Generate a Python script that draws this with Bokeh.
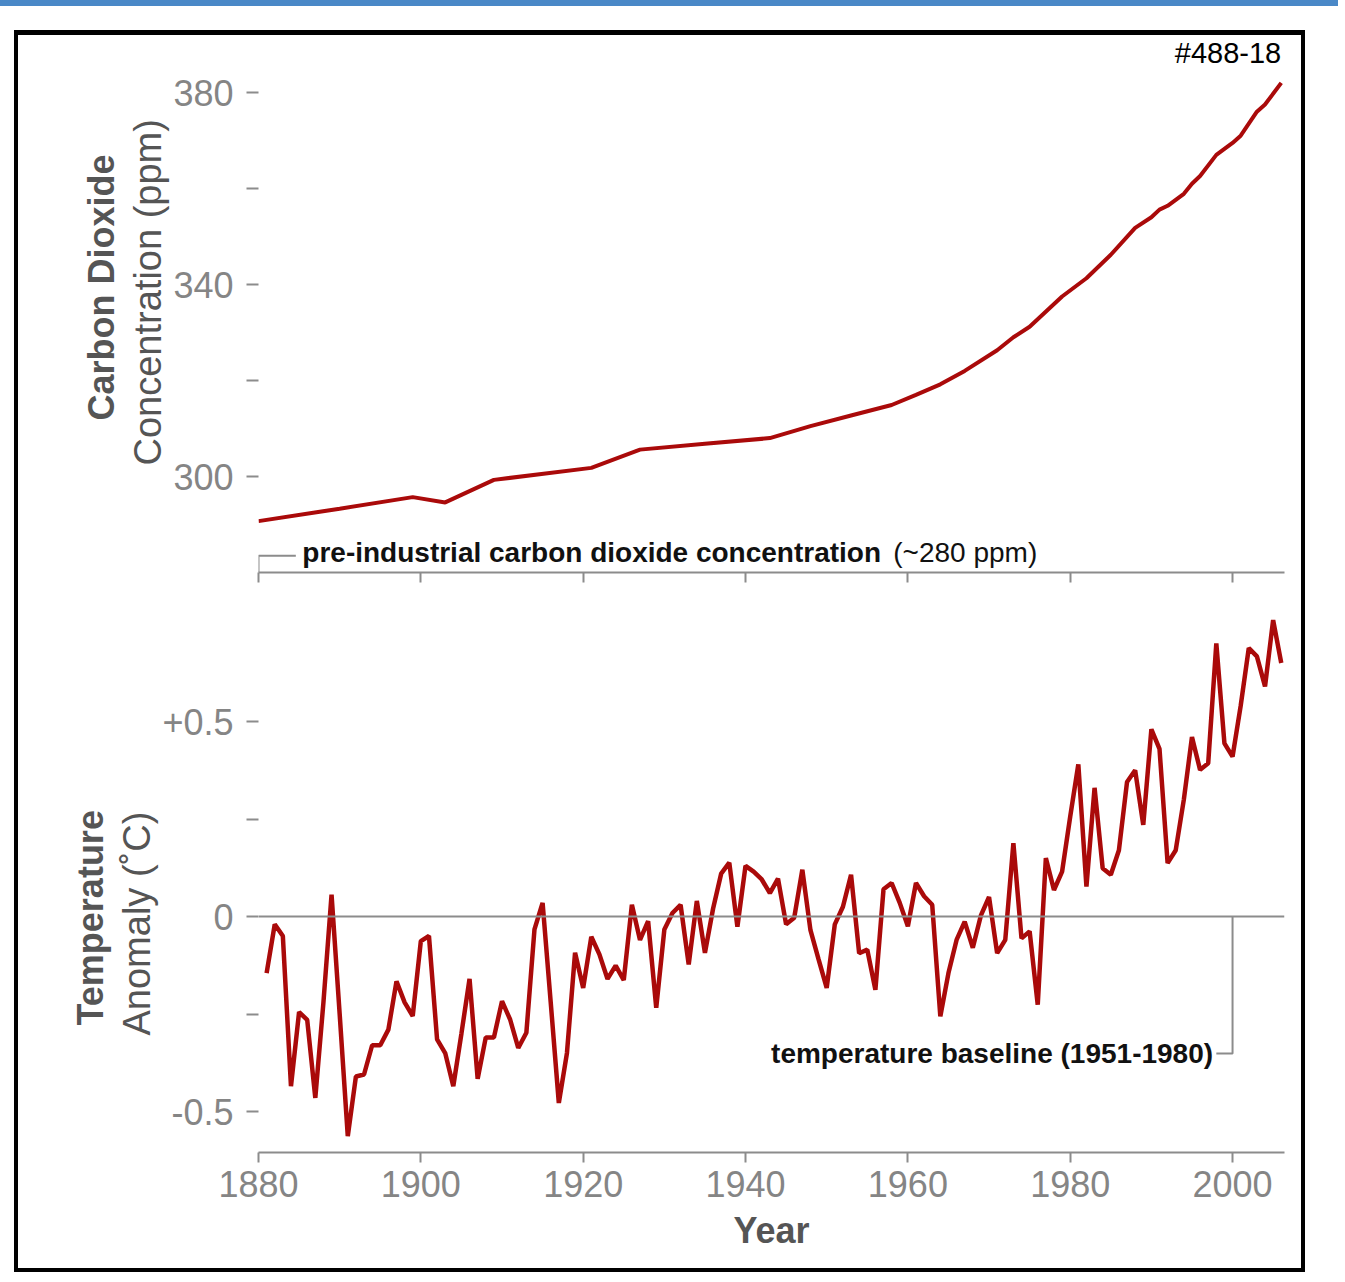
from bokeh.plotting import figure
from bokeh.models import Range1d, FixedTicker, Title, Span, Spacer
from bokeh.layouts import column, row
from bokeh.embed import file_html
from bokeh.resources import INLINE
from bokeh.core.properties import value

# ---------------- data ----------------
co2_years = [1880, 1890, 1899, 1903, 1909, 1921, 1927, 1935, 1943, 1948, 1953,
             1958, 1961, 1964, 1967, 1971, 1973, 1975, 1979, 1982, 1985, 1988,
             1990, 1991, 1992, 1994, 1995, 1996, 1998, 2000, 2001, 2003, 2004, 2006]
co2_ppm = [290.7, 293.3, 295.7, 294.6, 299.3, 301.8, 305.6, 306.8, 308.0, 310.5, 312.7,
           314.9, 317.0, 319.2, 322.0, 326.3, 329.0, 331.2, 337.5, 341.3, 346.2, 351.8,
           354.0, 355.6, 356.4, 358.9, 361.0, 362.6, 367.0, 369.5, 371.0, 376.0, 377.5, 382.0]

temp_years = list(range(1881, 2007))
temp_anom = [
    -0.145, -0.02, -0.05, -0.435, -0.245, -0.265, -0.465, -0.22, 0.056, -0.25,   # 1881-1890
    -0.563, -0.41, -0.405, -0.33, -0.33, -0.29, -0.166, -0.22, -0.255, -0.063,   # 1891-1900
    -0.05, -0.315, -0.35, -0.435, -0.30, -0.16, -0.416, -0.31, -0.31, -0.217,    # 1901-1910
    -0.264, -0.337, -0.298, -0.033, 0.035, -0.22, -0.478, -0.35, -0.093, -0.183, # 1911-1920
    -0.052, -0.097, -0.16, -0.126, -0.163, 0.03, -0.06, -0.012, -0.234, -0.033,  # 1921-1930
    0.009, 0.03, -0.123, 0.04, -0.093, 0.02, 0.11, 0.138, -0.026, 0.13,          # 1931-1940
    0.115, 0.095, 0.06, 0.097, -0.02, -0.003, 0.12, -0.035, -0.11, -0.183,       # 1941-1950
    -0.02, 0.025, 0.107, -0.094, -0.085, -0.188, 0.07, 0.086, 0.035, -0.025,     # 1951-1960
    0.086, 0.052, 0.03, -0.256, -0.145, -0.06, -0.013, -0.08, 0.003, 0.05,       # 1961-1970
    -0.094, -0.06, 0.188, -0.056, -0.038, -0.226, 0.15, 0.068, 0.115, 0.256,     # 1971-1980
    0.39, 0.077, 0.33, 0.124, 0.107, 0.17, 0.345, 0.375, 0.235, 0.48,            # 1981-1990
    0.43, 0.137, 0.17, 0.30, 0.46, 0.376, 0.393, 0.70, 0.444, 0.41,              # 1991-2000
    0.54, 0.688, 0.667, 0.59, 0.76, 0.65                                         # 2001-2006
]

x_ticks = [1880, 1900, 1920, 1940, 1960, 1980, 2000]
co2_label_ticks = [300, 340, 380]
co2_minor_ticks = [320, 360]
temp_label_ticks = [-0.5, 0, 0.5]
temp_minor_ticks = [-0.25, 0.25]
temp_tick_labels = {-0.5: "-0.5", 0: "0", 0.5: "+0.5"}

co2_title_bold = "Carbon Dioxide"
co2_title_reg = "Concentration (ppm)"
temp_title_bold = "Temperature"
temp_title_reg = "Anomaly (\u02daC)"
x_title = "Year"
note_co2_bold = "pre-industrial carbon dioxide concentration"
note_co2_reg = "(~280 ppm)"
note_temp = "temperature baseline (1951-1980)"
corner_id = "#488-18"

# ---------------- style ----------------
FONT = "Liberation Sans"
RED = "#aa0a0a"
AXIS_GRAY = "#8c8c8c"
TICK_TXT = "#858585"
TITLE_TXT = "#555555"
TOP_BAR = "#4a88c7"
X_RANGE = (1880, 2006.4)
CO2_RANGE = (280, 391.875)      # frame reaches the top of the panel (4.8 px per ppm)
TEMP_RANGE = (-0.605, 0.80)


def base_style(p):
    p.xgrid.visible = False
    p.ygrid.visible = False
    p.outline_line_color = None
    p.outline_line_alpha = 0
    p.background_fill_color = "white"
    p.border_fill_color = "white"
    for ax in (p.xaxis[0], p.yaxis[0]):
        ax.major_tick_in = 0
        ax.minor_tick_in = 0
        ax.major_tick_line_color = AXIS_GRAY
        ax.minor_tick_line_color = AXIS_GRAY
        ax.major_tick_line_width = 2
        ax.minor_tick_line_width = 2
        ax.major_label_text_font = FONT
        ax.major_label_text_font_size = "36px"
        ax.major_label_text_color = TICK_TXT
    p.yaxis.axis_line_color = None
    p.yaxis.major_tick_out = 12
    p.yaxis.minor_tick_out = 12
    p.yaxis.major_label_standoff = 13
    p.xaxis.axis_line_color = AXIS_GRAY
    p.xaxis.axis_line_width = 2
    p.xaxis.major_tick_out = 10
    p.xaxis.minor_tick_out = 10


def side_titles(p, bold_txt, reg_txt, off_bold, off_reg):
    p.add_layout(Title(text=reg_txt, align="left", offset=off_reg,
                       text_font=FONT, text_font_size="38px", text_font_style="normal",
                       text_color=TITLE_TXT, standoff=4), "left")
    p.add_layout(Title(text=bold_txt, align="left", offset=off_bold,
                       text_font=FONT, text_font_size="36px", text_font_style="bold",
                       text_color=TITLE_TXT, standoff=2), "left")


# ---------------- top: CO2 ----------------
p1 = figure(width=1283, height=555, x_range=Range1d(*X_RANGE), y_range=Range1d(*CO2_RANGE),
            output_backend="svg", toolbar_location=None, outline_line_color=None,
            title_location=None,
            min_border_left=240, min_border_right=17, min_border_top=0, min_border_bottom=18)
base_style(p1)
p1.xaxis.ticker = FixedTicker(ticks=[], minor_ticks=x_ticks)
p1.yaxis.ticker = FixedTicker(ticks=co2_label_ticks, minor_ticks=co2_minor_ticks)
side_titles(p1, co2_title_bold, co2_title_reg, 152, 107)

p1.line(co2_years, co2_ppm, line_color=RED, line_width=4)

# bracket to the pre-industrial level (the bottom axis sits at 280 ppm)
p1.line([1884.6, 1880, 1880], [283.5, 283.5, 280], line_color=AXIS_GRAY, line_width=2)
p1.text(x=[1885.4], y=[284.1], text=[note_co2_bold], text_font=value(FONT),
        text_font_style="bold", text_font_size="28px", text_color="#111111",
        text_align="left", text_baseline="middle")
p1.text(x=[1958.2], y=[284.1], text=[note_co2_reg], text_font=value(FONT),
        text_font_style="normal", text_font_size="28px", text_color="#111111",
        text_align="left", text_baseline="middle")
# corner identifier, top right (hangs from the top edge of the panel)
p1.text(x=[2006.0], y=[391.6], text=[corner_id], text_font=value(FONT),
        text_font_style="normal", text_font_size="29px", text_color="black",
        text_align="right", text_baseline="top")

# ---------------- bottom: temperature ----------------
p2 = figure(width=1283, height=678, x_range=Range1d(*X_RANGE), y_range=Range1d(*TEMP_RANGE),
            output_backend="svg", toolbar_location=None, outline_line_color=None,
            min_border_left=240, min_border_right=17, min_border_top=14, min_border_bottom=116)
base_style(p2)
p2.xaxis.ticker = FixedTicker(ticks=x_ticks)
p2.xaxis.major_label_standoff = 8
p2.xaxis.axis_label = x_title
p2.xaxis.axis_label_text_font = FONT
p2.xaxis.axis_label_text_font_size = "36px"
p2.xaxis.axis_label_text_font_style = "bold"
p2.xaxis.axis_label_text_color = TITLE_TXT
p2.xaxis.axis_label_standoff = 10
p2.yaxis.ticker = FixedTicker(ticks=temp_label_ticks, minor_ticks=temp_minor_ticks)
p2.yaxis.major_label_overrides = temp_tick_labels
side_titles(p2, temp_title_bold, temp_title_reg, 127, 117)

p2.add_layout(Span(location=0, dimension="width", line_color=AXIS_GRAY, line_width=2))
p2.line([1998.0, 2000, 2000], [-0.351, -0.351, 0], line_color=AXIS_GRAY, line_width=2)
p2.text(x=[1997.6], y=[-0.351], text=[note_temp], text_font=value(FONT),
        text_font_style="bold", text_font_size="28px", text_color="#111111",
        text_align="right", text_baseline="middle")
p2.line(temp_years, temp_anom, line_color=RED, line_width=4.5)

# ---------------- frame & page ----------------
inner = column(p1, p2, spacing=0, styles={"background-color": "white"})
inner.margin = (5, 4, 4, 4)
framed = column(inner, spacing=0, styles={"background-color": "black"})
page = column(Spacer(width=1338, height=6, styles={"background-color": TOP_BAR}),
              Spacer(width=10, height=24),
              row(Spacer(width=14, height=10), framed, spacing=0),
              spacing=0)

open("out.html", "w").write(file_html(page, INLINE))
